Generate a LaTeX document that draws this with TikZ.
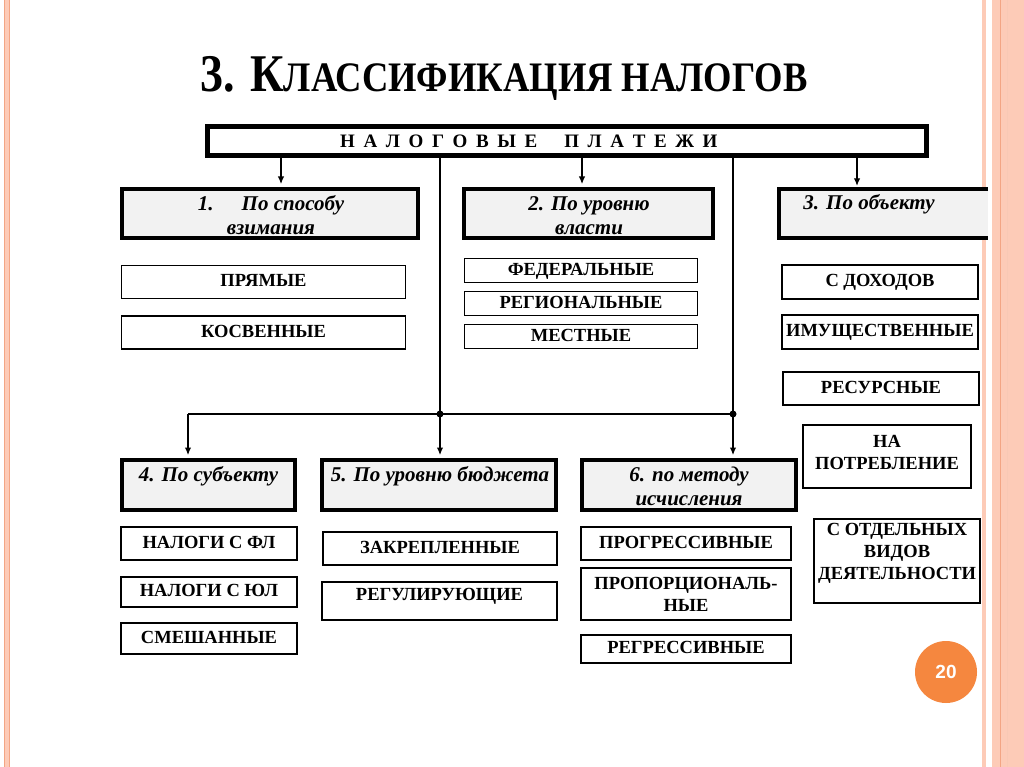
\documentclass[tikz,border=0pt]{standalone}
\usepackage{fontspec}
\setmainfont{Liberation Serif}
\newfontfamily\badgefont{Liberation Sans}
\usetikzlibrary{arrows.meta,calc}
\definecolor{salmon}{HTML}{FDCBB7}
\definecolor{salmondk}{HTML}{F3A584}
\definecolor{hdrfill}{HTML}{F2F2F2}
\definecolor{badge}{HTML}{F5873F}
\newcommand{\lsp}{\hspace{8.6pt}}
\begin{document}
\begin{tikzpicture}[x=1pt,y=-1pt,
 hbox/.style={draw, line width=4pt, fill=hdrfill, inner sep=0pt},
 sbox/.style={draw, line width=1.3pt, fill=white, inner sep=0pt, align=center,
   font=\fontsize{18.5}{22}\selectfont\bfseries},
 one/.style={text height=12.2pt, text depth=3pt},
 stext/.style={inner sep=0pt, align=center, font=\fontsize{18.5}{22}\selectfont\bfseries},
 htext/.style={font=\fontsize{21}{24}\selectfont\bfseries\itshape, align=center, inner sep=0pt, anchor=base},
 conn/.style={line width=1.1pt},
 arr/.style={line width=1.1pt, -{Latex[length=7.5pt,width=6.5pt]}, shorten >=3pt},
 dot/.style={circle, fill=black, inner sep=0pt, minimum size=7pt},
]
\useasboundingbox (0,0) rectangle (1024,767);
\fill[white] (0,0) rectangle (1024,767);
% slide borders
\fill[salmon] (3.5,0) rectangle (9.5,767);
\draw[salmondk, line width=0.6pt] (4,0) -- (4,767) (9,0) -- (9,767);
\fill[salmon] (981.5,0) rectangle (986,767);
\fill[salmon] (992,0) rectangle (1024,767);
\draw[salmondk, line width=0.8pt] (1000,0) -- (1000,767);
\draw[salmondk!60, line width=0.6pt] (1007,0) -- (1007,767);

% title
\node[inner sep=0pt, anchor=base] (title) at (504,92)
  {\scalebox{0.87}[1]{\bfseries\fontsize{53}{60}\selectfont 3. К\fontsize{42}{50}\selectfont ЛАССИФИКАЦИЯ НАЛОГОВ}};

% top box
\node[draw, line width=5pt, minimum width=719, minimum height=29, inner sep=0pt] (top) at (567,141) {};
\node[inner sep=0pt, anchor=base west, font=\fontsize{19}{22}\selectfont\bfseries] (toptext) at (340,148)
  {Н\lsp А\lsp Л\lsp О\lsp Г\lsp О\lsp В\lsp Ы\lsp Е\hspace{27pt}П\lsp Л\lsp А\lsp Т\lsp Е\lsp Ж\lsp И};

% header boxes
\node[hbox, minimum width=296, minimum height=49] (b1) at (270,213.5) {};
\node[hbox, minimum width=249, minimum height=49] (b2) at (588.5,213.5) {};
\node[inner sep=0pt, minimum width=209, minimum height=49] (b3) at (883.5,213.5) {};
\fill[hdrfill] (b3.north west) rectangle (b3.south east);
\draw[line width=4pt] (b3.north east) -- (b3.north west) -- (b3.south west) -- (b3.south east);
\node[hbox, minimum width=173, minimum height=50] (b4) at (208.5,485) {};
\node[hbox, minimum width=234, minimum height=50] (b5) at (439,485) {};
\node[hbox, minimum width=214, minimum height=50] (b6) at (689,485) {};

\node[htext] (t1) at (271,234) {1.\hspace{28pt}По способу\\взимания};
\node[htext] (t2) at (589,234) {2. По уровню\\власти};
\node[htext] (t3) at (869,210) {3. По объекту};
\node[htext] (t4) at (208.5,481) {4. По субъекту};
\node[htext] (t5) at (440,481) {5. По уровню бюджета};
\node[htext] (t6) at (689,505) {6. по методу\\исчисления};

% column 1
\node[sbox, one, minimum width=284, minimum height=33] (s11) at (263.5,282) {ПРЯМЫЕ};
\node[sbox, one, minimum width=284, minimum height=33] (s12) at (263.5,332.5) {КОСВЕННЫЕ};
% column 2
\node[sbox, one, minimum width=233, minimum height=24] (s21) at (581,270.5) {ФЕДЕРАЛЬНЫЕ};
\node[sbox, one, minimum width=233, minimum height=24] (s22) at (581,303.5) {РЕГИОНАЛЬНЫЕ};
\node[sbox, one, minimum width=233, minimum height=24] (s23) at (581,336.5) {МЕСТНЫЕ};
% column 3
\node[sbox, one, minimum width=196, minimum height=34] (s31) at (880,282) {С ДОХОДОВ};
\node[sbox, one, minimum width=196, minimum height=34] (s32) at (880,332) {ИМУЩЕСТВЕННЫЕ};
\node[sbox, one, minimum width=196, minimum height=33] (s33) at (881,388.5) {РЕСУРСНЫЕ};
\node[sbox, minimum width=168, minimum height=63] (s34) at (887,456.5) {};
\node[stext] (s34t) at ($(s34.center)+(0,-4)$) {НА\\ПОТРЕБЛЕНИЕ};
\node[sbox, minimum width=166, minimum height=84] (s35) at (897,561) {};
\node[stext] (s35t) at ($(s35.center)+(0,-8)$) {С ОТДЕЛЬНЫХ\\ВИДОВ\\ДЕЯТЕЛЬНОСТИ};
% column 4
\node[sbox, one, minimum width=176, minimum height=33] (s41) at (209,543.5) {НАЛОГИ С ФЛ};
\node[sbox, one, minimum width=176, minimum height=30] (s42) at (209,592) {НАЛОГИ С ЮЛ};
\node[sbox, one, minimum width=176, minimum height=31] (s43) at (209,638.5) {СМЕШАННЫЕ};
% column 5
\node[sbox, one, minimum width=234, minimum height=33] (s51) at (440,548.5) {ЗАКРЕПЛЕННЫЕ};
\node[sbox, minimum width=235, minimum height=38] (s52) at (439.5,601) {};
\node[stext, one] (s52t) at ($(s52.center)+(0,-5)$) {РЕГУЛИРУЮЩИЕ};
% column 6
\node[sbox, one, minimum width=210, minimum height=33] (s61) at (686,543.5) {ПРОГРЕССИВНЫЕ};
\node[sbox, minimum width=210, minimum height=52] (s62) at (686,594) {ПРОПОРЦИОНАЛЬ-\\НЫЕ};
\node[sbox, one, minimum width=210, minimum height=28] (s63) at (686,649) {РЕГРЕССИВНЫЕ};

% connectors
\coordinate (a1) at (281,0);
\coordinate (a2) at (582,0);
\coordinate (a3) at (857,0);
\draw[arr] (top.south -| a1) -- (b1.north -| a1);
\draw[arr] (top.south -| a2) -- (b2.north -| a2);
\draw[arr] (top.south -| a3) -- (b3.north -| a3);
\coordinate (j1) at (188,414);
\coordinate (j2) at (440,414);
\coordinate (j3) at (733,414);
\draw[conn] (top.south -| j2) -- (j2);
\draw[conn] (top.south -| j3) -- (j3);
\draw[conn] (j3) -- (j1);
\draw[arr] (j1) -- (b4.north -| j1);
\draw[arr] (j2) -- (b5.north -| j2);
\draw[arr] (j3) -- (b6.north -| j3);
\node[dot] (d2) at (j2) {};
\node[dot] (d3) at (j3) {};

% page badge
\node[circle, fill=badge, minimum size=62, inner sep=0pt, text=white,
  font=\badgefont\bfseries\fontsize{19}{20}\selectfont] (pg) at (946,672) {20};
\end{tikzpicture}
\end{document}
